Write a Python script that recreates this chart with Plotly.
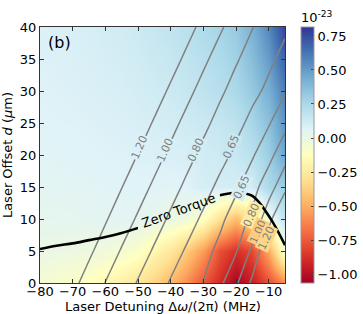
import plotly.graph_objects as go

# ---- data ----
detuning_mhz = [-80, -75, -70, -65, -60, -55, -50, -45, -40, -35, -30, -25, -20, -15, -10, -5]
offset_um = [0, 5, 10, 15, 20, 25, 30, 35, 40]

# torque (units of 1e-23), rows = offset_um, columns = detuning_mhz
torque_y0 = [-0.06, -0.08, -0.10, -0.13, -0.17, -0.22, -0.28, -0.36, -0.47, -0.60, -0.76, -0.90, -1.05, -0.95, -0.78, -0.60]
torque_y5 = [-0.002, -0.006, -0.010, -0.020, -0.035, -0.060, -0.100, -0.180, -0.270, -0.400, -0.550, -0.780, -0.880, -0.800, -0.500, -0.040]
torque_y10 = [0.030, 0.030, 0.032, 0.039, 0.045, 0.047, 0.039, 0.020, -0.006, -0.030, -0.120, -0.300, -0.450, -0.300, -0.028, 0.182]
torque_y15 = [0.045, 0.047, 0.050, 0.052, 0.055, 0.060, 0.060, 0.058, 0.054, 0.064, 0.102, 0.105, 0.099, 0.117, 0.250, 0.300]
torque_y20 = [0.055, 0.057, 0.060, 0.063, 0.067, 0.071, 0.076, 0.082, 0.088, 0.095, 0.115, 0.130, 0.150, 0.200, 0.300, 0.470]
torque_y25 = [0.062, 0.065, 0.068, 0.073, 0.078, 0.084, 0.092, 0.100, 0.110, 0.125, 0.140, 0.160, 0.190, 0.260, 0.360, 0.530]
torque_y30 = [0.068, 0.072, 0.077, 0.083, 0.090, 0.098, 0.108, 0.120, 0.135, 0.155, 0.180, 0.210, 0.250, 0.320, 0.430, 0.600]
torque_y35 = [0.074, 0.078, 0.083, 0.090, 0.100, 0.108, 0.120, 0.136, 0.155, 0.175, 0.205, 0.240, 0.285, 0.370, 0.500, 0.690]
torque_y40 = [0.080, 0.085, 0.090, 0.100, 0.110, 0.120, 0.135, 0.155, 0.175, 0.200, 0.235, 0.275, 0.320, 0.420, 0.570, 0.780]

# ratio field drawn as gray contour lines
ratio_y0 = [1.53, 1.39, 1.25, 1.12, 0.996, 0.889, 0.788, 0.713, 0.639, 0.586, 0.652, 0.755, 0.965, 1.244, 1.52, 1.80]
ratio_y5 = [1.64, 1.505, 1.37, 1.235, 1.108, 0.985, 0.879, 0.781, 0.706, 0.634, 0.604, 0.683, 0.785, 1.043, 1.397, 1.75]
ratio_y10 = [1.76, 1.624, 1.489, 1.354, 1.219, 1.095, 0.976, 0.869, 0.774, 0.701, 0.629, 0.62, 0.709, 0.84, 1.122, 1.5]
ratio_y15 = [1.88, 1.745, 1.61, 1.475, 1.34, 1.205, 1.083, 0.966, 0.858, 0.767, 0.695, 0.623, 0.629, 0.728, 0.909, 1.14]
ratio_y20 = [2.0, 1.867, 1.732, 1.597, 1.462, 1.327, 1.193, 1.072, 0.957, 0.848, 0.76, 0.69, 0.624, 0.636, 0.74, 0.925]
ratio_y25 = [2.12, 1.986, 1.851, 1.716, 1.581, 1.446, 1.311, 1.179, 1.06, 0.946, 0.837, 0.754, 0.684, 0.62, 0.638, 0.746]
ratio_y30 = [2.24, 2.107, 1.972, 1.837, 1.702, 1.567, 1.432, 1.297, 1.167, 1.05, 0.936, 0.826, 0.748, 0.679, 0.626, 0.64]
ratio_y35 = [2.36, 2.229, 2.094, 1.959, 1.824, 1.689, 1.554, 1.419, 1.284, 1.155, 1.038, 0.925, 0.815, 0.741, 0.673, 0.617]
ratio_y40 = [2.48, 2.35, 2.21, 2.08, 1.94, 1.81, 1.67, 1.54, 1.40, 1.27, 1.143, 1.028, 0.916, 0.805, 0.736, 0.669]

ratio_levels = [0.65, 0.80, 1.00, 1.20]
# inline contour labels: text, detuning, offset
label_text = ["1.20", "1.00", "0.80", "0.65", "0.65", "0.80", "1.00", "1.20"]
label_x = [-49.6, -41.5, -32.1, -21.4, -18.4, -15.4, -13.1, -10.8]
label_y = [21.2, 20.8, 20.8, 21.3, 15.0, 10.6, 8.0, 7.0]
label_bg = ["#dbf1f7", "#d8f0f5", "#d3edf4", "#c8e8f1", "#d5eef5", "#feeba0", "#fecc7d", "#fed687"]

cbar_ticks = [-1.0, -0.75, -0.5, -0.25, 0.0, 0.25, 0.5, 0.75]
x_ticks = [-80, -70, -60, -50, -40, -30, -20, -10]

torque = [torque_y0, torque_y5, torque_y10, torque_y15, torque_y20,
          torque_y25, torque_y30, torque_y35, torque_y40]
ratio = [ratio_y0, ratio_y5, ratio_y10, ratio_y15, ratio_y20,
         ratio_y25, ratio_y30, ratio_y35, ratio_y40]

FONT = "DejaVu Sans"
fig = go.Figure()

fig.add_trace(go.Heatmap(
    x=detuning_mhz, y=offset_um, z=torque,
    colorscale="RdYlBu", zmin=-1.066, zmax=0.816, zsmooth="best",
    colorbar=dict(
        xref="container", x=0.829, xanchor="left",
        y=0.5, yanchor="middle", len=1, lenmode="fraction",
        thickness=13, xpad=0, ypad=0, outlinecolor="#999", outlinewidth=1,
        tickvals=cbar_ticks,
        ticktext=[("−" if v < 0 else "") + f"{abs(v):.2f}" for v in cbar_ticks],
        ticks="inside", ticklen=3, tickcolor="#444",
        tickfont=dict(family=FONT, size=13, color="black"),
    ),
    hoverinfo="skip",
))

for lev in ratio_levels:
    fig.add_trace(go.Contour(
        x=detuning_mhz, y=offset_um, z=ratio,
        contours=dict(start=lev, end=lev, size=1, coloring="none", showlabels=False),
        line=dict(color="#808080", width=1.5),
        showscale=False, hoverinfo="skip",
    ))

# zero-torque contour, split where the inline label sits
for lo, hi in [(0, 7), (11, 16)]:
    fig.add_trace(go.Contour(
        x=detuning_mhz[lo:hi], y=offset_um, z=[row[lo:hi] for row in torque],
        contours=dict(start=0, end=0, size=1, coloring="none"),
        line=dict(color="black", width=2.6),
        showscale=False, hoverinfo="skip",
    ))

for t, lx, ly, bg in zip(label_text, label_x, label_y, label_bg):
    fig.add_annotation(x=lx, y=ly, xref="x", yref="y", text=t, textangle=-66,
                       showarrow=False, bgcolor=bg, borderpad=0,
                       font=dict(family=FONT, size=11, color="#808080"))

fig.add_annotation(x=-37.5, y=11.3, xref="x", yref="y", text="Zero Torque",
                   textangle=-20, showarrow=False,
                   font=dict(family=FONT, size=13, color="black"))
fig.add_annotation(x=0.025, y=0.985, xref="paper", yref="paper", text="(b)",
                   xanchor="left", yanchor="top", showarrow=False,
                   font=dict(family=FONT, size=16, color="black"))
fig.add_annotation(x=1.131, y=1.0, xref="paper", yref="paper", text="10<sup>-23</sup>",
                   xanchor="center", yanchor="bottom", showarrow=False,
                   font=dict(family=FONT, size=13, color="black"))
# x-axis title
fig.add_annotation(x=0.5, y=-0.09, xref="paper", yref="paper",
                   text="Laser Detuning Δ<i>ω</i>/(2π) (MHz)",
                   xanchor="center", yanchor="middle", showarrow=False,
                   font=dict(family=FONT, size=13, color="black"))

axis_common = dict(showgrid=False, zeroline=False, showline=True, linecolor="#333",
                   linewidth=1, mirror="allticks", ticks="inside", ticklen=4,
                   tickcolor="#333", automargin=False,
                   tickfont=dict(family=FONT, size=13, color="black"))
fig.update_xaxes(range=[-80, -5], tickvals=x_ticks, tickangle=0,
                 ticklabelstandoff=-4, **axis_common)
fig.update_yaxes(range=[0, 40], dtick=5,
                 title=dict(text="Laser Offset <i>d</i> (<i>μ</i>m)",
                            font=dict(family=FONT, size=13)), **axis_common)

fig.update_layout(width=363, height=314, margin=dict(l=40, r=78, t=27, b=31, autoexpand=False),
                  plot_bgcolor="white", paper_bgcolor="white", showlegend=False,
                  font=dict(family=FONT, size=13, color="black"))

fig.write_html("out.html", config={"displayModeBar": False},
               post_script="document.body.style.margin='0';document.body.style.overflow='hidden';")
